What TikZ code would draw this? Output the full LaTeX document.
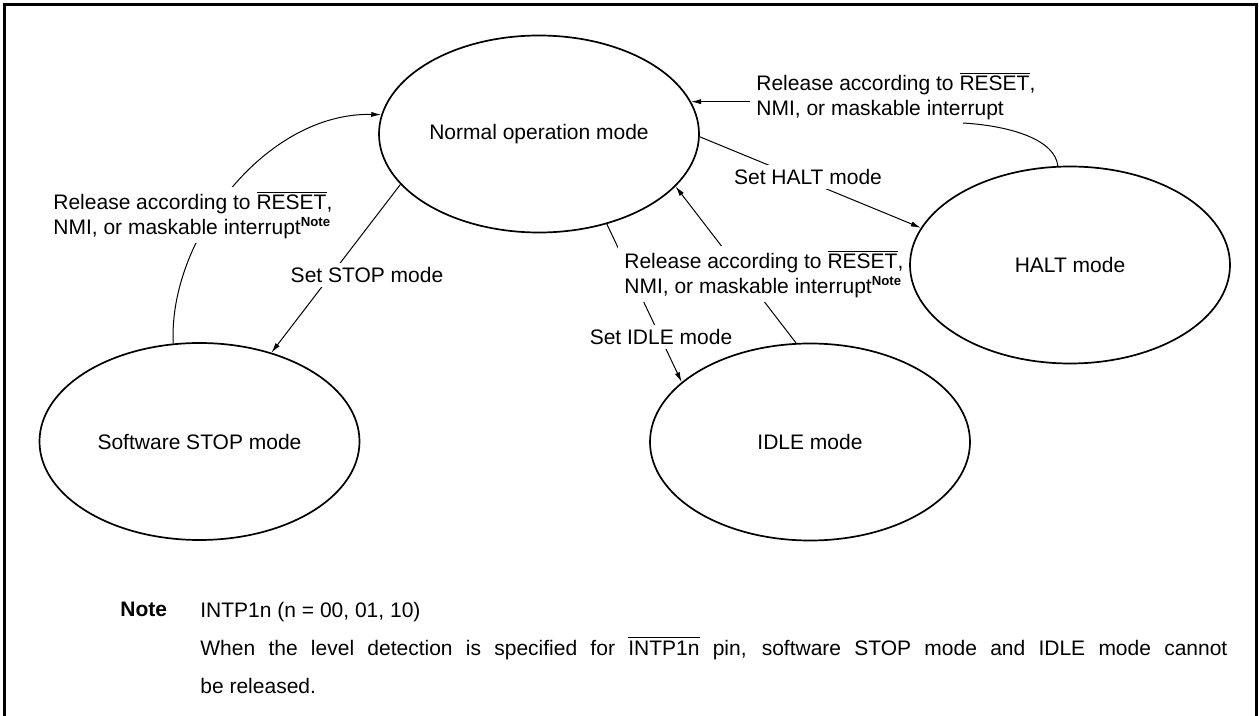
\documentclass[tikz,border=0pt]{standalone}
\usepackage{fontspec}
\setmainfont{Liberation Sans}
\usetikzlibrary{shapes.geometric,arrows.meta}
\setlength\parindent{0pt}
\newcommand\ovl[1]{$\overline{\mbox{#1}}$}
\newcommand\nsup{\raisebox{4pt}{\fontsize{6.6pt}{7pt}\selectfont\bfseries Note}}
\pgfdeclarelayer{bg}
\pgfsetlayers{bg,main}
\begin{document}
\begin{tikzpicture}[x=0.5pt,y=-0.5pt,
  every node/.style={font=\fontsize{10.5pt}{12.25pt}\selectfont},
  mode/.style={draw, ellipse, line width=0.85pt, minimum width=160pt, minimum height=98.5pt, inner sep=0pt},
  conn/.style={line width=0.5pt},
  arr/.style={conn, -{Latex[length=5pt,width=2.6pt]}},
  lbl/.style={fill=white, inner xsep=3pt, inner ysep=2pt, align=left},
  frame/.style={line width=1.5pt}]
\useasboundingbox (0,0) rectangle (1259,716);
\draw[frame] (4.5,720) -- (4.5,4.5) -- (1256.5,4.5) -- (1256.5,720);

\node[mode] (normal) at (539,134) {Normal operation mode};
\node[mode] (halt) at (1070,265) {HALT mode};
\node[mode] (stop) at (199.5,441.5) {Software STOP mode};
\node[mode] (idle) at (810,442) {IDLE mode};

\begin{pgfonlayer}{bg}
\draw[arr] (normal.-1.4) -- (halt.166);
\draw[arr] (normal.200.6) -- (stop.51);
\draw[arr] (normal.-53) -- (idle.155.8);
\draw[arr] (idle.98.7) -- (normal.-21.4);
\draw[arr] (stop.105) .. controls (168,240) and (265,112) .. (normal.173.8);

\node[lbl, anchor=west] (rH) at (750,96) {Release according to \ovl{RESET},\\NMI, or maskable interrupt};
\coordinate (hc) at (963,123);
\draw[conn] (halt.97) .. controls (1055,140) and (1012,126) .. (hc);
\draw[arr] (rH.west |- normal.12.4) -- (normal.12.4);

\node[lbl, anchor=west] (rS) at (47,215) {Release according to \ovl{RESET},\\NMI, or maskable interrupt\nsup};
\node[lbl, anchor=west] (rI) at (618,274) {Release according to \ovl{RESET},\\NMI, or maskable interrupt\nsup};
\node[lbl] (sH) at (808,177) {Set HALT mode};
\node[lbl] (sS) at (367,275) {Set STOP mode};
\node[lbl] (sI) at (661,337) {Set IDLE mode};
\end{pgfonlayer}

\node[anchor=base west, inner sep=0pt, font=\fontsize{10.5pt}{19pt}\selectfont\bfseries] (nt) at (120,617) {Note};
\node[anchor=north west, inner sep=0pt, text width=513.5pt, align=justify, font=\fontsize{10.5pt}{19pt}\selectfont] (nx) at (200,601.5) {INTP1n (n = 00, 01, 10)\par When the level detection is specified for \ovl{INTP1n} pin, software STOP mode and IDLE mode cannot\linebreak be released.};
\end{tikzpicture}
\end{document}
